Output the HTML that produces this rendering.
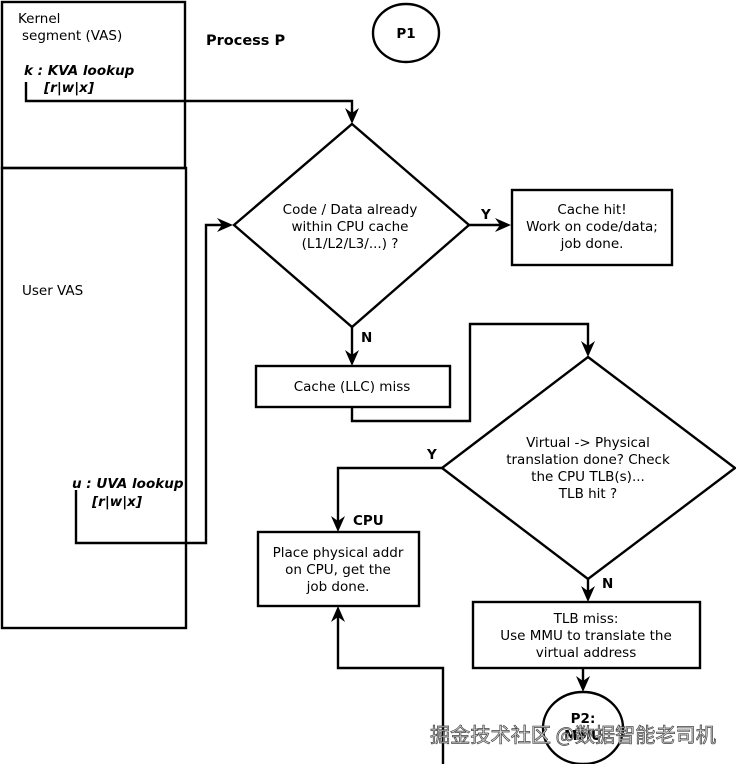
<!DOCTYPE html>
<html><head><meta charset="utf-8"><style>
html,body{margin:0;padding:0;background:#fff;}
</style></head><body>
<svg width="736" height="764" viewBox="0 0 736 764" xmlns="http://www.w3.org/2000/svg" font-family="DejaVu Sans, Liberation Sans, sans-serif" font-size="13.5">
<g fill="none" stroke="#000" stroke-width="2.4">
<rect x="2" y="2" width="183" height="166"/>
<rect x="2" y="168" width="184" height="460"/>
<ellipse cx="406" cy="33" rx="33" ry="29"/>
<polygon points="352,124 469,225 352,327 234,225"/>
<rect x="512" y="190" width="160" height="75"/>
<rect x="256" y="366" width="194" height="41"/>
<polygon points="588,357 735,468 588,579 442,468"/>
<rect x="258" y="532" width="161" height="74"/>
<rect x="473" y="602" width="227" height="66"/>
<ellipse cx="583" cy="728" rx="40" ry="36"/>
<polyline points="26,82 26,101 352,101 352,114"/>
<polyline points="76,490 76,543 206,543 206,225 224,225"/>
<polyline points="469,225 502,225"/>
<polyline points="352,327 352,356"/>
<polyline points="352,407 352,421 470,421 470,324 588,324 588,347"/>
<polyline points="442,468 338,468 338,522"/>
<polyline points="588,579 588,592"/>
<polyline points="583,668 583,682"/>
<polyline points="443,764 443,668 338,668 338,616"/>
</g>
<g fill="#000">
<polygon points="352,124 345,108 352,113 359,108"/>
<polygon points="233,225 217,218 222,225 217,232"/>
<polygon points="511,225 495,218 500,225 495,232"/>
<polygon points="352,366 345,350 352,355 359,350"/>
<polygon points="588,357 581,341 588,346 595,341"/>
<polygon points="338,532 331,516 338,521 345,516"/>
<polygon points="588,602 581,586 588,591 595,586"/>
<polygon points="583,692 576,676 583,681 590,676"/>
<polygon points="338,606 331,622 338,617 345,622"/>
</g>
<text x="18" y="23">Kernel</text>
<text x="22" y="40">segment (VAS)</text>
<text x="24" y="75" font-weight="bold" font-style="italic">k : KVA lookup</text>
<text x="44" y="92" font-weight="bold" font-style="italic">[r|w|x]</text>
<text x="206" y="45" font-weight="bold" font-size="14.5">Process P</text>
<text x="406" y="38" font-weight="bold" text-anchor="middle">P1</text>
<text x="350" y="214" text-anchor="middle">Code / Data already</text>
<text x="350" y="231" text-anchor="middle">within CPU cache</text>
<text x="350" y="248" text-anchor="middle">(L1/L2/L3/...) ?</text>
<text x="481" y="219" font-weight="bold">Y</text>
<text x="592" y="214" text-anchor="middle">Cache hit!</text>
<text x="592" y="231" text-anchor="middle">Work on code/data;</text>
<text x="592" y="248" text-anchor="middle">job done.</text>
<text x="22" y="295">User VAS</text>
<text x="361" y="342" font-weight="bold">N</text>
<text x="352" y="391" text-anchor="middle">Cache (LLC) miss</text>
<text x="588" y="447" text-anchor="middle">Virtual -&gt; Physical</text>
<text x="588" y="464" text-anchor="middle">translation done? Check</text>
<text x="588" y="481" text-anchor="middle">the CPU TLB(s)...</text>
<text x="588" y="498" text-anchor="middle">TLB hit ?</text>
<text x="427" y="459" font-weight="bold">Y</text>
<text x="72" y="488" font-weight="bold" font-style="italic">u : UVA lookup</text>
<text x="92" y="506" font-weight="bold" font-style="italic">[r|w|x]</text>
<text x="353" y="525" font-weight="bold">CPU</text>
<text x="338" y="557" text-anchor="middle">Place physical addr</text>
<text x="338" y="574" text-anchor="middle">on CPU, get the</text>
<text x="338" y="591" text-anchor="middle">job done.</text>
<text x="602" y="588" font-weight="bold">N</text>
<text x="586" y="623" text-anchor="middle">TLB miss:</text>
<text x="586" y="640" text-anchor="middle">Use MMU to translate the</text>
<text x="586" y="657" text-anchor="middle">virtual address</text>
<text x="583" y="723" font-weight="bold" text-anchor="middle">P2:</text>
<text x="583" y="740" font-weight="bold" text-anchor="middle">MMU</text>
<text x="430" y="742" font-family="Noto Sans CJK SC, sans-serif" font-size="20" fill="#ddd" stroke="#444" stroke-width="0.7" textLength="286" lengthAdjust="spacingAndGlyphs">掘金技术社区 @数据智能老司机</text>
</svg>
</body></html>
